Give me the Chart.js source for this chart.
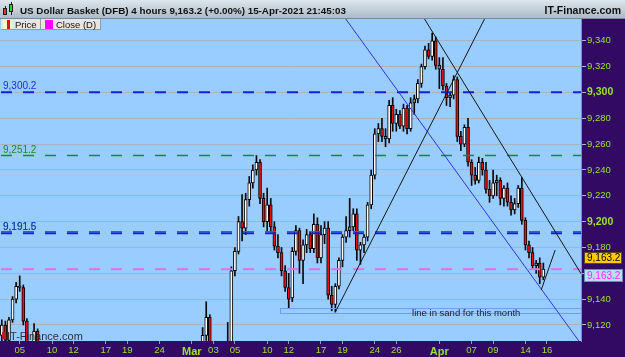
<!DOCTYPE html>
<html><head><meta charset="utf-8">
<script src="https://cdn.jsdelivr.net/npm/chart.js@4.4.1/dist/chart.umd.min.js"></script>
<style>html,body{margin:0;padding:0;background:#320a64;}canvas{display:block;}</style>
</head><body>
<canvas id="c" width="625" height="357"></canvas>
<script>
// ---------- DATA ----------
const tradingDays = ["02-03","02-04","02-05","02-08","02-09","02-10","02-11","02-12","02-15","02-16","02-17","02-18","02-19","02-22","02-23","02-24","02-25","02-26",
"03-01","03-02","03-03","03-04","03-05","03-08","03-09","03-10","03-11","03-12","03-15","03-16","03-17","03-18","03-19","03-22","03-23","03-24","03-25","03-26","03-29","03-30","03-31",
"04-01","04-05","04-06","04-07","04-08","04-09","04-12","04-13","04-14","04-15","04-16","04-19","04-20","04-21"];
const axisDayLabels = {"02-05":"05","02-10":"10","02-12":"12","02-17":"17","02-19":"19","02-24":"24","03-01":"Mar","03-03":"03","03-05":"05","03-10":"10","03-12":"12","03-17":"17","03-19":"19","03-24":"24","03-26":"26","04-01":"Apr","04-07":"07","04-09":"09","04-14":"14","04-16":"16"};
const slotCount = 162;

const open = [9112,9120,9108,9124,9140,9150,9149,9123,9100,9098,
9115,9100,9092,9084,9090,9096,9088,9074,9066,9072,
9060,9064,9070,9080,9076,9062,9050,9054,9060,9048,
9036,9042,9038,9024,9030,9036,9026,9012,9020,9030,
9040,9046,9054,9046,9034,9022,9030,9044,9062,9076,
9084,9090,9086,9094,9098,9090,9095,9112,9126,9103,
9092,9096,9090,9098,9105,9162,9177,9200,9195,9217,
9230,9240,9246,9218,9200,9213,9196,9181,9176,9162,
9149,9141,9177,9193,9170,9182,9190,9179,9198,9172,
9190,9195,9143,9136,9150,9170,9188,9193,9196,9206,
9178,9182,9188,9213,9236,9268,9272,9266,9264,9290,
9276,9283,9274,9288,9272,9292,9295,9307,9320,9333,
9328,9340,9321,9318,9305,9296,9298,9310,9266,9260,
9273,9246,9236,9232,9246,9240,9225,9220,9230,9232,
9218,9226,9215,9209,9214,9226,9201,9182,9176,9166,
9168,9157];
const high = [9124,9123,9126,9142,9153,9158,9151,9125,9106,9121,
9117,9104,9098,9094,9100,9102,9092,9080,9076,9078,
9068,9074,9082,9088,9080,9066,9058,9064,9066,9052,
9046,9050,9044,9034,9040,9042,9030,9024,9034,9044,
9052,9058,9060,9050,9042,9034,9048,9066,9080,9090,
9096,9100,9098,9104,9103,9100,9118,9138,9128,9106,
9100,9104,9102,9122,9165,9180,9204,9221,9222,9235,
9244,9251.2,9248,9222,9226,9218,9200,9190,9180,9166,
9160,9180,9197,9195,9186,9194,9192,9206,9203,9197,
9200,9200,9150,9152,9172,9190,9204,9218,9210,9210,
9184,9190,9215,9240,9272,9276,9280,9272,9294,9296,
9287,9286,9291,9290,9296,9298,9310,9322,9336,9338,
9346,9343,9327,9327,9307,9300,9313,9312,9270,9275,
9280,9248,9242,9250,9249,9246,9232,9240,9236,9234,
9228,9230,9220,9218,9228,9234,9203,9185,9180,9170,
9172,9168];
const low = [9100,9105,9104,9122,9137,9146,9120,9095,9090,9094,
9095,9088,9080,9078,9085,9086,9070,9062,9060,9058,
9050,9060,9066,9072,9060,9046,9040,9050,9044,9030,
9028,9034,9020,9016,9026,9022,9008,9006,9016,9026,
9034,9040,9042,9030,9018,9014,9026,9040,9058,9070,
9078,9080,9078,9086,9084,9082,9090,9108,9098,9088,
9082,9086,9084,9094,9100,9158,9175,9185,9190,9212,
9226,9236,9214,9196,9193,9192,9178,9172,9158,9146,
9133,9138,9174,9160,9152,9176,9176,9176,9168,9168,
9183,9140,9131,9130,9148,9165,9184,9188,9193,9170,
9167,9176,9185,9210,9233,9262,9262,9258,9261,9270,
9270,9272,9270,9268,9270,9283,9292,9304,9318,9326,
9325,9318,9303,9302,9290,9289,9295,9262,9255,9258,
9243,9228,9229,9230,9236,9222,9215,9218,9220,9213,
9212,9212,9205,9206,9211,9198,9178,9172,9163,9160,
9152,9155];
const close = [9120,9108,9124,9140,9150,9149,9123,9100,9098,9115,
9100,9092,9084,9090,9096,9088,9074,9066,9072,9060,
9064,9070,9080,9076,9062,9050,9054,9060,9048,9036,
9042,9038,9024,9030,9036,9026,9012,9020,9030,9040,
9046,9054,9046,9034,9022,9030,9044,9062,9076,9084,
9090,9086,9094,9098,9090,9095,9112,9126,9103,9092,
9096,9090,9098,9106,9162,9177,9200,9195,9217,9230,
9240,9246,9218,9200,9213,9196,9181,9176,9162,9149,
9140,9177,9193,9170,9182,9190,9179,9198,9172,9190,
9195,9143,9136,9150,9170,9188,9193,9196,9206,9178,
9182,9188,9213,9236,9268,9272,9266,9264,9290,9276,
9283,9274,9288,9272,9292,9295,9307,9320,9333,9328,
9340,9321,9318,9305,9296,9298,9310,9266,9260,9273,
9246,9236,9232,9246,9240,9225,9220,9230,9232,9218,
9226,9215,9209,9214,9226,9201,9182,9176,9166,9168,
9157,9163.2];

const levelValues = [9300.2, 9251.2, 9191.6, 9191.5];
const levelLabels = ["9,300.2", "9,251.2", "9,191.6", "9,191.5"];
const lastClose = 9163.2;
const lastCloseLabel = "9,163.2";
// trend lines as [slot, price] pairs
const blueLine = [[95.7, 9357.7], [160.9, 9107.6]];
const blackDown = [[117.7, 9357.7], [161.5, 9159.8]];
const blackUp = [[93, 9130], [134.75, 9357.7]];
const blackShort = [[150.4, 9147.1], [154.3, 9178]];
const sandZone = {fromSlot: 77.6, top: 9133.1, bottom: 9129.2, text: "line in sand for this month", textSlot: 129.5, textPrice: 9130};
const yMin = 9107.6, yMax = 9356.9;
const titleText = "US Dollar Basket (DFB) 4 hours 9,163.2 (+0.00%) 15-Apr-2021 21:45:03";

// ---------- BUILD ----------
const FONT = "'Liberation Sans', Arial, sans-serif";
const slotDay = [];
for (let s = 0; s < slotCount; s++) slotDay.push(tradingDays[Math.floor((s + 1) / 3)]);
const categories = slotDay.map((d, s) => ((s === 0 || slotDay[s - 1] !== d) && axisDayLabels[d]) ? axisDayLabels[d] : "");

const bodies = close.map((c, i) => [open[i], c]);
const wicks = low.map((l, i) => [l, high[i]]);
const bodyColors = close.map((c, i) => Math.abs(c - open[i]) <= 3 ? '#8c8c8c' : (c >= open[i] ? '#ffffff' : '#ee1010'));

const GREEN = '#9be22d';
const fmt = v => Math.round(v).toLocaleString('en-US');

const overlay = {
  id: 'overlay',
  beforeDraw(chart) {
    const {ctx, chartArea: a, width, height} = chart;
    ctx.save();
    ctx.fillStyle = '#320a64';
    ctx.fillRect(0, 0, width, height);
    ctx.fillStyle = '#99ccff';
    ctx.fillRect(a.left, a.top, a.right - a.left, a.bottom - a.top);
    ctx.restore();
  },
  afterDatasetsDraw(chart) {
    const {ctx, chartArea: a, scales: {x, y}} = chart;
    ctx.save();
    ctx.beginPath(); ctx.rect(a.left, a.top, a.right - a.left, a.bottom - a.top); ctx.clip();
    // sand zone
    const zx = x.getPixelForValue(sandZone.fromSlot);
    const zt = Math.round(y.getPixelForValue(sandZone.top)) + 0.5;
    const zb = Math.round(y.getPixelForValue(sandZone.bottom)) + 0.5;
    ctx.strokeStyle = '#6d9ff0'; ctx.lineWidth = 1;
    ctx.strokeRect(Math.round(zx) + 0.5, zt, a.right - zx + 2, zb - zt);
    // dashed levels
    const dashed = (v, color, w, dy) => {
      const py = y.getPixelForValue(v) + (dy || 0);
      ctx.beginPath(); ctx.setLineDash([11, 11]); ctx.lineDashOffset = -1;
      ctx.strokeStyle = color; ctx.lineWidth = w;
      ctx.moveTo(a.left, py); ctx.lineTo(a.right, py); ctx.stroke();
    };
    dashed(levelValues[0], '#1020d8', 2);
    dashed(levelValues[1], '#1e8a1e', 1.5);
    dashed(levelValues[3], '#1020d8', 2, 0.5);
    dashed(levelValues[2], '#1e8a1e', 1, -1);
    dashed(lastClose, '#e36ee8', 2);
    ctx.setLineDash([]);
    // trend lines
    const seg = (p, color) => {
      ctx.beginPath(); ctx.strokeStyle = color; ctx.lineWidth = 1;
      ctx.moveTo(x.getPixelForValue(p[0][0]), y.getPixelForValue(p[0][1]));
      ctx.lineTo(x.getPixelForValue(p[1][0]), y.getPixelForValue(p[1][1]));
      ctx.stroke();
    };
    seg(blueLine, '#3333dd');
    seg(blackDown, '#151515');
    seg(blackUp, '#151515');
    seg(blackShort, '#151515');
    // level labels
    ctx.textBaseline = 'alphabetic'; ctx.textAlign = 'left';
    ctx.font = '10px ' + FONT;
    const lab = (i, color) => {
      ctx.fillStyle = color;
      ctx.fillText(levelLabels[i], a.left + 3, y.getPixelForValue(levelValues[i]) - 3);
    };
    lab(0, '#1a2ee6'); lab(1, '#1e8a1e'); lab(2, '#1e8a1e'); lab(3, '#1a2ee6');
    // sand text
    ctx.font = '9.5px ' + FONT; ctx.fillStyle = '#1e1e28'; ctx.textAlign = 'center'; ctx.textBaseline = 'middle';
    ctx.fillText(sandZone.text, x.getPixelForValue(sandZone.textSlot), y.getPixelForValue(sandZone.textPrice) + 1);
    // watermark
    ctx.textAlign = 'left'; ctx.textBaseline = 'alphabetic';
    ctx.font = '11px ' + FONT; ctx.fillStyle = 'rgba(20,20,30,0.85)';
    ctx.fillText('IT-Finance.com', a.left + 7, a.bottom - 1);
    ctx.fillStyle = '#b02020'; ctx.fillRect(a.left + 2, a.bottom - 9, 3, 7);
    ctx.restore();
  },
  afterDraw(chart) {
    const {ctx, chartArea: a, scales: {y}, width} = chart;
    ctx.save();
    // header
    const g = ctx.createLinearGradient(0, 0, 0, 19);
    g.addColorStop(0, '#dde6ed'); g.addColorStop(1, '#a9b9c6');
    ctx.fillStyle = g; ctx.fillRect(0, 0, width, 19);
    ctx.fillStyle = '#7a8a96'; ctx.fillRect(0, 18, width, 1);
    // icon
    ctx.strokeStyle = '#202020'; ctx.lineWidth = 1;
    ctx.fillStyle = '#e03030'; ctx.fillRect(3, 8, 4, 7); ctx.strokeRect(3.5, 8.5, 3, 6);
    ctx.fillStyle = '#30d030'; ctx.fillRect(9, 4, 4, 8); ctx.strokeRect(9.5, 4.5, 3, 7);
    ctx.beginPath(); ctx.moveTo(5.5, 6); ctx.lineTo(5.5, 8); ctx.moveTo(11.5, 2); ctx.lineTo(11.5, 4); ctx.moveTo(11.5, 12); ctx.lineTo(11.5, 15); ctx.stroke();
    // title
    ctx.fillStyle = '#101010'; ctx.textBaseline = 'alphabetic'; ctx.textAlign = 'left';
    ctx.font = 'bold 10px ' + FONT;
    const tw = ctx.measureText(titleText).width;
    const fs = Math.min(11.5, 10 * 326 / tw);
    ctx.font = 'bold ' + fs.toFixed(2) + 'px ' + FONT;
    ctx.fillText(titleText, 20, 14);
    ctx.textAlign = 'right';
    ctx.font = 'bold 10.5px ' + FONT;
    ctx.fillText('IT-Finance.com', 621, 14);
    // legend boxes
    ctx.textAlign = 'left';
    ctx.fillStyle = '#e6e6e6'; ctx.fillRect(1, 19, 99, 11);
    ctx.fillStyle = '#9a9a9a'; ctx.fillRect(40, 19, 1, 11); ctx.fillRect(100, 19, 1, 11); ctx.fillRect(1, 29, 100, 1);
    ctx.fillStyle = '#fff6c8'; ctx.fillRect(3, 20, 9, 9);
    ctx.fillStyle = '#dd1111'; ctx.fillRect(7, 20, 3, 9);
    ctx.fillStyle = '#ff00ff'; ctx.fillRect(45, 20, 8, 9);
    ctx.fillStyle = '#111'; ctx.font = '9.5px ' + FONT;
    ctx.fillText('Price', 15, 28);
    ctx.fillText('Close (D)', 56, 28);
    // price tags on axis
    const yc = y.getPixelForValue(lastClose);
    ctx.font = '10px ' + FONT; ctx.textBaseline = 'middle';
    let ty = Math.round(yc - 11.5);
    ctx.fillStyle = '#ffcc00'; ctx.fillRect(584, ty - 5, 37, 11);
    ctx.strokeStyle = '#5a4a10'; ctx.strokeRect(584.5, ty - 5.5, 37, 11);
    ctx.fillStyle = '#000'; ctx.fillText(lastCloseLabel, 587, ty + 0.5);
    ty = Math.round(yc + 7);
    ctx.fillStyle = '#b9dcff'; ctx.fillRect(584, ty - 6, 38, 12);
    ctx.strokeStyle = '#6a8cae'; ctx.strokeRect(584.5, ty - 6.5, 38, 12);
    ctx.fillStyle = '#ff2cff'; ctx.fillText(lastCloseLabel, 587, ty + 0.5);
    ctx.restore();
  }
};

new Chart(document.getElementById('c'), {
  type: 'bar',
  data: {
    labels: categories,
    datasets: [
      {data: wicks, backgroundColor: '#0a0a0a', borderWidth: 0, barThickness: 1, grouped: false, order: 2, clip: {left: 0, top: 0, right: 0, bottom: 0}},
      {data: bodies, backgroundColor: bodyColors, borderColor: '#000', borderWidth: 1, borderSkipped: false, barThickness: 3, minBarLength: 1, grouped: false, order: 1, clip: {left: 0, top: 0, right: 0, bottom: 0}}
    ]
  },
  options: {
    responsive: false, animation: false, devicePixelRatio: 1,
    layout: {padding: {top: 19, left: 0, right: 0, bottom: 0}},
    plugins: {legend: {display: false}, tooltip: {enabled: false}},
    scales: {
      x: {
        type: 'category', offset: true,
        grid: {display: true, offset: false, drawOnChartArea: false, drawTicks: true, tickLength: 3,
               color: c => categories[c.index] ? '#8c9ab4' : 'rgba(0,0,0,0)'},
        border: {display: false},
        ticks: {autoSkip: false, maxRotation: 0, minRotation: 0, padding: 1, color: GREEN,
                font: c => (c.tick && (c.tick.label === 'Mar' || c.tick.label === 'Apr')) ? {family: FONT, size: 11, weight: 'bold'} : {family: FONT, size: 9.5},
                callback: (v, i) => categories[i]},
        afterFit: s => { s.height = 16; }
      },
      y: {
        position: 'right', min: yMin, max: yMax,
        grid: {color: '#a6b4c6', lineWidth: 1, tickLength: 5},
        border: {display: true, color: '#8090a8'},
        ticks: {stepSize: 20, includeBounds: false, padding: 1, color: GREEN,
                font: c => (c.tick && c.tick.value % 100 === 0) ? {family: FONT, size: 10.5, weight: 'bold'} : {family: FONT, size: 9.5},
                callback: v => fmt(v)},
        afterFit: s => { s.width = 44; }
      }
    }
  },
  plugins: [overlay]
});
</script>
</body></html>
